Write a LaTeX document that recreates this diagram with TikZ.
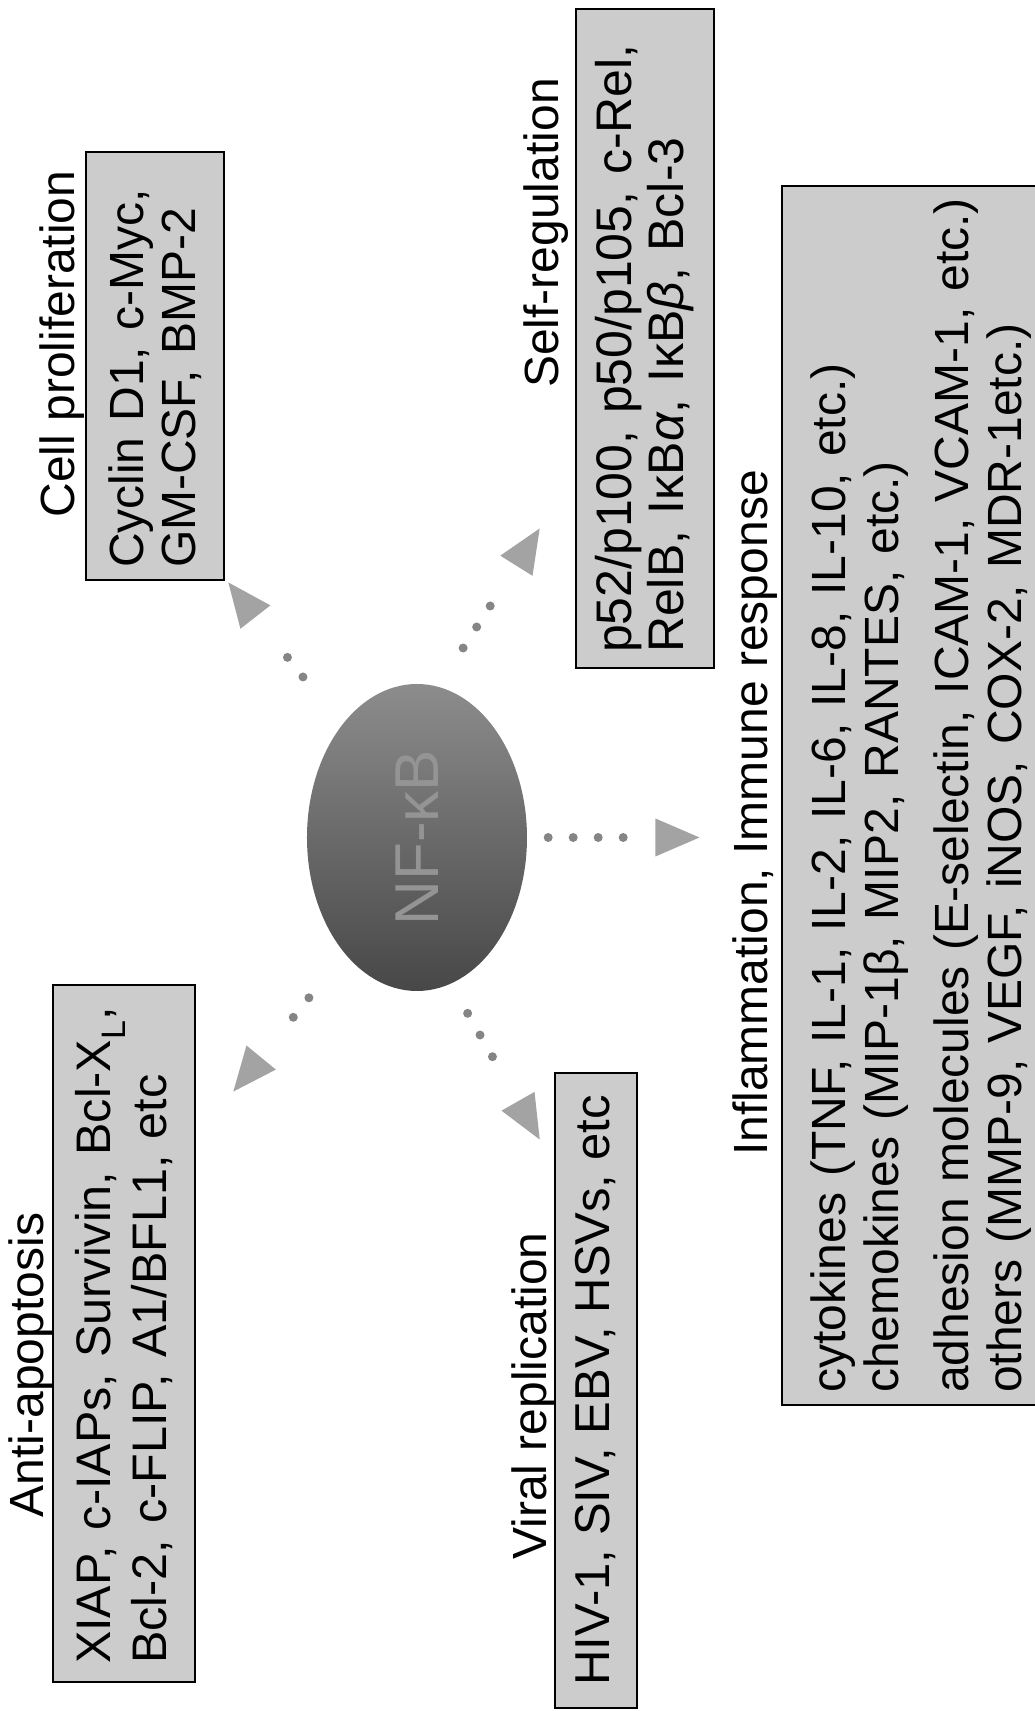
\documentclass[tikz,border=0pt]{standalone}
\usepackage{fontspec}
\setmainfont{Liberation Sans}
\usetikzlibrary{shapes.geometric}

\begin{document}
\begin{tikzpicture}[x=1pt,y=1pt,
  grpbox/.style={draw, line width=2.5pt, fill=black!20, inner ysep=0pt, align=left, font=\fontsize{50}{52}\selectfont},
  grptitle/.style={inner sep=0pt, font=\fontsize{48}{52}\selectfont},
  arrowhead/.style={isosceles triangle, isosceles triangle stretches, minimum width=38pt, minimum height=44pt, inner sep=0pt, fill=black!36, anchor=apex},
  dotlink/.style={draw=black!48, line width=9pt, line cap=round, dash pattern=on 0pt off 25pt}]
  \useasboundingbox (-1035,0) rectangle (0,1711);
  \begin{scope}[rotate=90, transform shape]
  \node[ellipse, minimum width=307pt, minimum height=220pt, inner sep=0pt, top color=black!45, bottom color=black!72, text=black!42, font=\fontsize{62}{62}\selectfont] (nfkb) at (873.5,618) {NF-κB};

  \node[grpbox, minimum width=697pt, minimum height=142pt, inner xsep=18pt, text width=661pt, font=\fontsize{48.5}{56}\selectfont] (antibox) at (377.5,911) {\mbox{XIAP, c-IAPs, Survivin, Bcl-X\textsubscript{L},}\\Bcl-2, c-FLIP, A1/BFL1, etc};
  \node[grptitle] (antititle) at (346,1004) {Anti-apoptosis};

  \node[grpbox, minimum width=428pt, minimum height=138pt, inner xsep=12pt, text width=404pt, font=\fontsize{48}{52}\selectfont] (cellbox) at (1345,880) {Cyclin D1, c-Myc,\\GM-CSF, BMP-2};
  \node[grptitle] (celltitle) at (1367,973) {Cell proliferation};

  \node[grpbox, minimum width=635pt, minimum height=82pt, font=\fontsize{49}{52}\selectfont] (virbox) at (320.5,439) {HIV-1, SIV, EBV, HSVs, etc};
  \node[grptitle] (virtitle) at (315,501) {Viral replication};

  \node[grpbox, minimum width=659pt, minimum height=138pt, inner xsep=15pt, text width=629pt] (selfbox) at (1372.5,390) {p52/p100, p50/p105, c-Rel,\\RelB, IκB\textit{α}, IκB\textit{β}, Bcl-3};
  \node[grptitle] (selftitle) at (1478,489) {Self-regulation};

  \node[grpbox, minimum width=1219pt, minimum height=278pt, inner xsep=12pt, text width=1195pt, font=\fontsize{48}{53}\selectfont] (inflbox) at (915.5,114) {\mbox{cytokines (TNF, IL-1, IL-2, IL-6, IL-8, IL-10, etc.)}\\\mbox{chemokines (MIP-1β, MIP2, RANTES, etc.)}\\[17pt]\mbox{adhesion molecules (E-selectin, ICAM-1, VCAM-1, etc.)}\\\mbox{others (MMP-9, VEGF, iNOS, COX-2, MDR-1etc.)}};
  \node[grptitle] (infltitle) at (898,280) {Inflammation, Immune response};

  \node[arrowhead, rotate=140.7] (antihead) at (619,802) {};
  \node[arrowhead, rotate=38] (cellhead) at (1129,807) {};
  \node[arrowhead, rotate=209.6] (virhead) at (571,495) {};
  \node[arrowhead, rotate=-32] (selfhead) at (1183,495) {};
  \node[arrowhead, rotate=-90] (inflhead) at (873.5,335) {};

  \draw[dotlink, shorten <=57pt, shorten >=28pt] (nfkb.148.6) -- (antihead);
  \draw[dotlink, shorten <=62pt, shorten >=28pt] (nfkb.34.4) -- (cellhead);
  \draw[dotlink, shorten <=34pt, shorten >=28pt] (nfkb.193.2) -- (virhead);
  \draw[dotlink, shorten <=46pt, shorten >=23pt] (nfkb.-8.9) -- (selfhead);
  \draw[dotlink, shorten <=21pt, shorten >=9pt] (nfkb.south) -- (inflhead);
  \end{scope}
\end{tikzpicture}
\end{document}
